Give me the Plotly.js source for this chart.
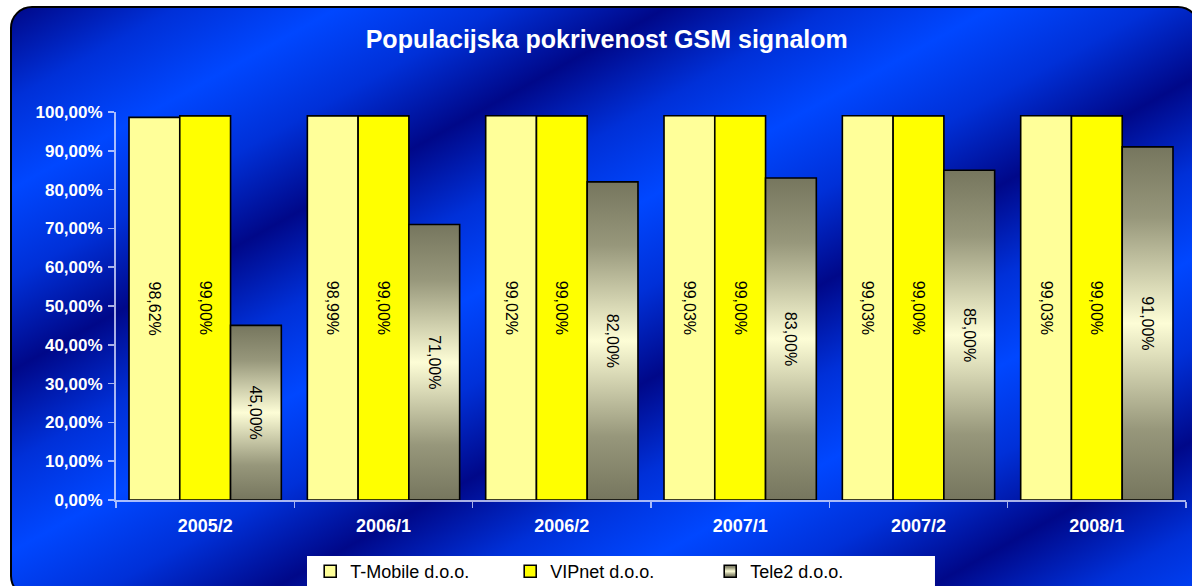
<!DOCTYPE html>
<html>
<head>
<meta charset="utf-8">
<script src="https://cdn.plot.ly/plotly-3.0.1.min.js"></script>
<style>
  html, body { margin:0; padding:0; background:#ffffff; width:1192px; height:586px; overflow:hidden; }
  #panel {
    position:absolute; left:10px; top:6px; width:1190px; height:592px;
    border:2px solid #000; border-radius:22px; box-sizing:border-box;
    background: repeating-linear-gradient(151deg, #000889 0px, #0030d8 80px, #0047ff 158px, #0030d8 236px, #000889 317px);
  }
  #chart { position:absolute; left:0; top:0; width:1192px; height:586px; }
</style>
</head>
<body>
<div id="panel"></div>
<div id="chart"></div>
<script>
var categories = ['2005/2', '2006/1', '2006/2', '2007/1', '2007/2', '2008/1'];
var tmobile = [98.62, 98.99, 99.02, 99.03, 99.03, 99.03];
var vipnet  = [99.00, 99.00, 99.00, 99.00, 99.00, 99.00];
var tele2   = [45.00, 71.00, 82.00, 83.00, 85.00, 91.00];
var seriesNames = ['T-Mobile d.o.o.', 'VIPnet d.o.o.', 'Tele2 d.o.o.'];
var seriesColors = ['#ffff99', '#ffff00', '#b4b494'];

var FONT = 'Arial, "Liberation Sans", sans-serif';
function fmt(v){ return v.toFixed(2).replace('.', ',') + '%'; }

function mk(name, vals, color){
  return {
    type:'bar', name:name, x:categories, y:vals,
    text: vals.map(fmt), textposition:'inside', insidetextanchor:'middle',
    textangle:90, constraintext:'none', cliponaxis:false,
    textfont:{family:FONT, size:16, color:'#000000'},
    marker:{color:color, line:{color:'#000000', width:1.6}},
    hoverinfo:'skip'
  };
}
var data = [
  mk(seriesNames[0], tmobile, seriesColors[0]),
  mk(seriesNames[1], vipnet, seriesColors[1]),
  mk(seriesNames[2], tele2, seriesColors[2])
];

var axisCol = 'rgba(225,230,255,0.75)';
var layout = {
  width:1192, height:586,
  margin:{l:116, r:6, t:112, b:86, autoexpand:false},
  paper_bgcolor:'rgba(0,0,0,0)', plot_bgcolor:'rgba(0,0,0,0)',
  separators:',.',
  barmode:'group', bargap:0.146, bargroupgap:0,
  font:{family:FONT, color:'#ffffff'},
  title:{text:'<b>Populacijska pokrivenost GSM signalom</b>', font:{family:FONT, size:25, color:'#ffffff'},
         x:0.509, xref:'container', xanchor:'center', y:0.933, yref:'container', yanchor:'middle'},
  xaxis:{type:'category', showgrid:false, zeroline:false, showline:true, linecolor:axisCol, linewidth:2,
         ticks:'outside', tickson:'boundaries', ticklen:6, tickcolor:axisCol, tickwidth:1.5,
         tickfont:{family:FONT, size:18, color:'#ffffff', weight:'bold'}, ticklabelstandoff:8},
  yaxis:{range:[0,100], dtick:10, tickformat:'.2f', ticksuffix:'%', showgrid:false, zeroline:false,
         showline:true, linecolor:axisCol, linewidth:2, ticks:'outside', ticklen:6, tickcolor:axisCol, tickwidth:1.5,
         tickfont:{family:FONT, size:17, color:'#ffffff', weight:'bold'}, ticklabelstandoff:2},
  shapes:[{type:'rect', xref:'paper', yref:'paper', x0:0.1785, x1:0.7654, y0:-0.25, y1:-0.1443,
           fillcolor:'#ffffff', line:{width:0}, layer:'above'}],
  showlegend:true,
  legend:{orientation:'h', x:0.1815, xanchor:'left', y:-0.1366, yanchor:'top',
          bgcolor:'rgba(0,0,0,0)', borderwidth:0, font:{family:FONT, size:18, color:'#000000'},
          entrywidth:155, entrywidthmode:'pixels', traceorder:'normal'}
};

var gd = document.getElementById('chart');
Plotly.newPlot(gd, data, layout, {staticPlot:true, displayModeBar:false}).then(function(){
  var ns = 'http://www.w3.org/2000/svg';
  var svg = gd.querySelector('svg.main-svg');
  var defs = svg.querySelector('defs') || svg.insertBefore(document.createElementNS(ns,'defs'), svg.firstChild);
  var lg = document.createElementNS(ns, 'linearGradient');
  lg.setAttribute('id', 'tele2grad');
  lg.setAttribute('x1','0'); lg.setAttribute('y1','0'); lg.setAttribute('x2','0'); lg.setAttribute('y2','1');
  [['0','#76765e'],['0.2','#97977b'],['0.5','#fdfdd6'],['0.8','#97977b'],['1','#76765e']].forEach(function(s){
    var st = document.createElementNS(ns,'stop');
    st.setAttribute('offset', s[0]); st.setAttribute('stop-color', s[1]);
    lg.appendChild(st);
  });
  defs.appendChild(lg);
  var traces = gd.querySelectorAll('.barlayer .trace');
  if (traces[2]) traces[2].querySelectorAll('.point path').forEach(function(p){ p.style.fill = 'url(#tele2grad)'; });
  var leg = gd.querySelectorAll('.legend .traces');
  if (leg[2]) leg[2].querySelectorAll('.legendpoints path').forEach(function(p){ p.style.fill = 'url(#tele2grad)'; });
});
</script>
</body>
</html>
